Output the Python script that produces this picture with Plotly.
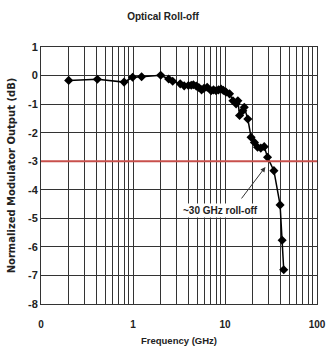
import plotly.graph_objects as go
import math

freq_ghz = [0.2, 0.41, 0.8, 0.99, 1.24, 2.0, 2.44, 2.7, 3.26, 3.6, 4.0, 4.3, 4.53, 4.88,
            5.2, 5.56, 5.9, 6.4, 7.07, 7.5, 8.0, 8.5, 9.06, 9.6, 10.25, 11.2, 12.2, 13.2,
            13.8, 14.4, 15.6, 16.2, 17.7, 19.2, 20.9, 22.6, 24.5, 26.7, 29.0, 34.0,
            39.7, 41.8, 43.5]
output_db = [-0.17, -0.13, -0.23, -0.06, -0.04, 0.01, -0.12, -0.2, -0.29, -0.36, -0.35,
             -0.34, -0.32, -0.37, -0.42, -0.5, -0.45, -0.41, -0.53, -0.5, -0.53, -0.5,
             -0.47, -0.52, -0.58, -0.64, -0.88, -0.99, -0.88, -1.4, -1.23, -1.11, -1.52,
             -2.16, -2.34, -2.51, -2.54, -2.49, -2.86, -3.33, -4.53, -5.77, -6.8]

threshold_db = -3
x_tick_vals = [0.1, 1, 10, 100]
x_tick_text = ["0", "1", "10", "100"]
y_tick_vals = [1, 0, -1, -2, -3, -4, -5, -6, -7, -8]
y_tick_text = ["1", "0", "-1", "-2", "-3", "-4", "-5", "-6", "-7", "-8"]
title_text = "Optical Roll-off"
x_title = "Frequency (GHz)"
y_title = "Normalized Modulator Output (dB)"
note_text = "~30 GHz roll-off"
note_pos = (9.0, -4.74)
arrow_head = (27.5, -3.2)

FONT = "Liberation Sans, Arial, sans-serif"

# full set of grid positions 1..9 per decade
grid_vals = []
grid_text = []
for d in [0.1, 1, 10]:
    for m in range(1, 10):
        v = round(m * d, 4)
        grid_vals.append(v)
        grid_text.append(x_tick_text[x_tick_vals.index(v)] if v in x_tick_vals else "")
grid_vals.append(100)
grid_text.append("100")

fig = go.Figure()
fig.add_trace(go.Scatter(
    x=freq_ghz, y=output_db, mode="lines+markers",
    line=dict(color="black", width=1.5),
    marker=dict(symbol="diamond", size=7, color="black"),
    showlegend=False, cliponaxis=False,
))

fig.add_shape(type="line", xref="paper", x0=0, x1=1, yref="y", y0=threshold_db, y1=threshold_db,
              line=dict(color="#c8504c", width=2))

fig.add_annotation(x=math.log10(note_pos[0]), y=note_pos[1], text="<b>" + note_text + "</b>",
                   showarrow=False, bgcolor="white", font=dict(family=FONT, size=10, color="#222"))
fig.add_annotation(x=math.log10(arrow_head[0]), y=arrow_head[1], text="",
                   showarrow=True, ax=-25, ay=33, arrowhead=2, arrowsize=1, arrowwidth=1,
                   arrowcolor="#333")

fig.update_layout(
    width=326, height=358,
    margin=dict(l=41, r=9, t=47, b=54),
    paper_bgcolor="white", plot_bgcolor="white",
    title=dict(text="<b>" + title_text + "</b>", x=0.5, xanchor="center", y=0.955, yanchor="middle",
               font=dict(family=FONT, size=10, color="#222")),
    font=dict(family=FONT, color="#222"),
)
fig.update_xaxes(
    type="log", range=[-1, 2], automargin=False,
    tickmode="array", tickvals=grid_vals, ticktext=["<b>%s</b>" % t if t else "" for t in grid_text],
    showgrid=True, gridcolor="#333", gridwidth=1,
    showline=True, linecolor="#333", mirror=True, ticks="",
    tickfont=dict(family=FONT, size=10, color="#222"),
    ticklabelstandoff=11, ticklabeloverflow="allow",
    title=dict(text="<b>" + x_title + "</b>", font=dict(family=FONT, size=9.5, color="#222"), standoff=8),
    zeroline=False,
)
fig.update_yaxes(
    range=[-8, 1], tickmode="array", tickvals=y_tick_vals, ticktext=["<b>%s</b>" % t for t in y_tick_text],
    showgrid=True, gridcolor="#333", gridwidth=1,
    showline=True, linecolor="#333", mirror=True, ticks="",
    tickfont=dict(family=FONT, size=11, color="#222"),
    title=dict(text="<b>" + y_title + "</b>", font=dict(family="DejaVu Sans, Liberation Sans", size=10, color="#222"), standoff=10),
    zeroline=False,
)

fig.write_html("out.html")
